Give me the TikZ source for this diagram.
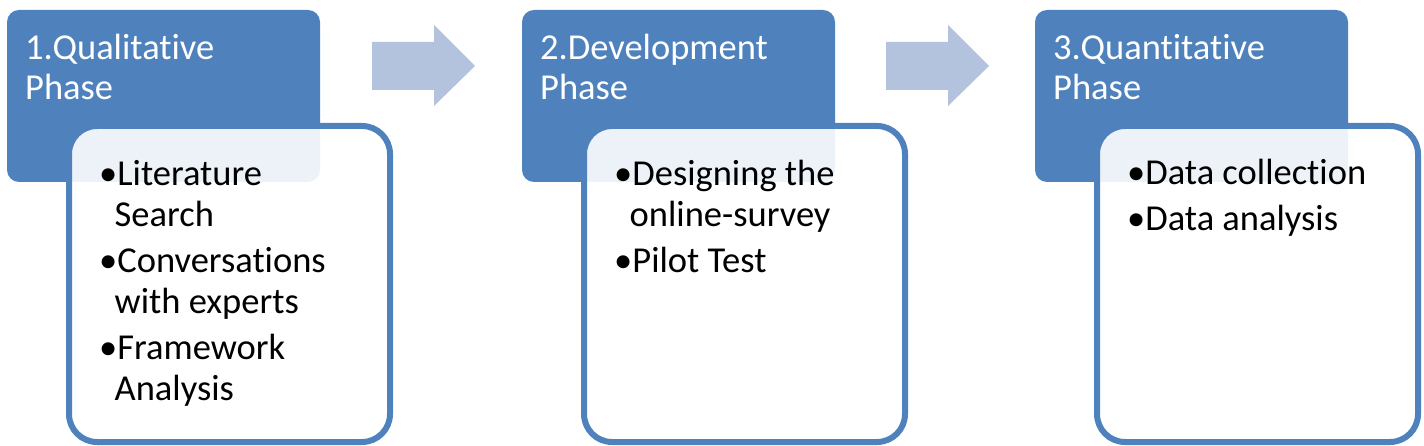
\documentclass[tikz,border=0pt]{standalone}
\usepackage{fontspec}
\setmainfont{Carlito}[Ligatures=NoCommon]
\definecolor{phaseblue}{HTML}{4F81BD}
\definecolor{arrowblue}{HTML}{B3C2DD}
\tikzset{
  phasebox/.style={fill=phaseblue, rounded corners=12pt, inner sep=0pt,
    minimum width=313pt, minimum height=172pt},
  bodybox/.style={draw=phaseblue, line width=6pt, fill=white, fill opacity=0.9,
    rounded corners=28pt, inner sep=0pt, minimum width=321pt, minimum height=316pt},
  titletext/.style={anchor=base west, inner sep=0pt, text=white, align=left,
    font=\fontsize{36.5}{40}\selectfont},
  itemtext/.style={anchor=base west, inner sep=0pt, text=black, align=left,
    font=\fontsize{36.5}{41}\selectfont},
  blockarrow/.style={fill=arrowblue, draw=none}
}
\newcommand{\bul}{\textbullet}
\newcommand{\ind}{\hspace{15.5pt}}
\begin{document}
\begin{tikzpicture}[x=1pt, y=-1pt]
  \useasboundingbox (0,0) rectangle (1424,446);
  % panel 1
  \node[phasebox] (p1) at (163.5,96) {};
  \node[bodybox] (b1) at (229.5,284) {};
  \node[titletext] (t1) at (25,100) {1.Qualitative\\Phase};
  \node[itemtext] (i11) at (99,227) {\bul Literature\\\ind Search};
  \node[itemtext] (i12) at (99,313) {\bul Conversations\\\ind with experts};
  \node[itemtext] (i13) at (99,400) {\bul Framework\\\ind Analysis};
  % arrow 1
  \fill[blockarrow] (372,42) -- (434,42) -- (434,25) -- (475,66) -- (434,106) -- (434,90) -- (372,90) -- cycle;
  % panel 2
  \node[phasebox] (p2) at (678.5,96) {};
  \node[bodybox] (b2) at (744.5,284) {};
  \node[titletext] (t2) at (540,100) {2.Development\\Phase};
  \node[itemtext] (i21) at (614,227) {\bul Designing the\\\ind online-survey};
  \node[itemtext] (i22) at (614,273) {\bul Pilot Test};
  % arrow 2
  \fill[blockarrow] (886,42) -- (948,42) -- (948,25) -- (989,66) -- (948,106) -- (948,90) -- (886,90) -- cycle;
  % panel 3
  \node[phasebox] (p3) at (1191.5,96) {};
  \node[bodybox] (b3) at (1257.5,284) {};
  \node[titletext] (t3) at (1053,100) {3.Quantitative\\Phase};
  \node[itemtext] (i31) at (1127,185) {\bul Data collection};
  \node[itemtext] (i32) at (1127,231) {\bul Data analysis};
\end{tikzpicture}
\end{document}
